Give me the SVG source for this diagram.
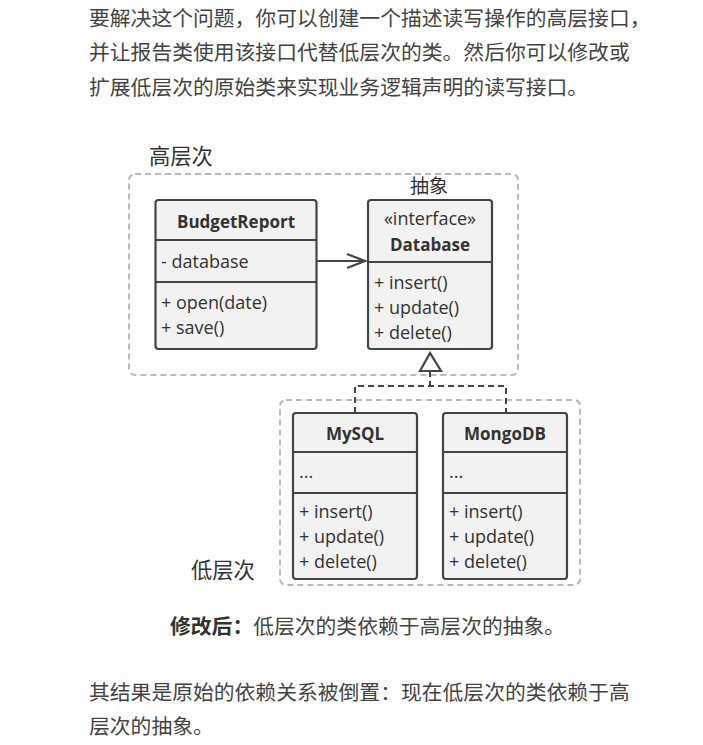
<svg xmlns="http://www.w3.org/2000/svg" width="703" height="745" viewBox="0 0 703 745">
<defs>
<style>
.para{font-family:"Noto Sans CJK SC","Noto Sans",sans-serif;font-size:20.8px;fill:#444}
.lbl{font-family:"Noto Sans CJK SC","Noto Sans",sans-serif;font-size:21.3px;fill:#333}
.box{fill:#f2f2f2;stroke:#444;stroke-width:2.2}
.div{stroke:#444;stroke-width:2.2}
.t{font-family:"Open Sans","Noto Sans",sans-serif;font-size:18px;fill:#333}
.b{font-weight:bold;font-size:17px}
.c{text-anchor:middle}
.grp{fill:none;stroke:#bbb;stroke-width:2;stroke-dasharray:6 4}
.dash{fill:none;stroke:#444;stroke-width:2;stroke-dasharray:6 4}
</style>
</defs>
<rect width="703" height="745" fill="#fff"/>
<g id="para-top">
<text class="para" x="89" y="26">要解决这个问题，你可以创建一个描述读写操作的高层接口，</text>
<text class="para" x="89" y="60">并让报告类使用该接口代替低层次的类。然后你可以修改或</text>
<text class="para" x="89" y="95">扩展低层次的原始类来实现业务逻辑声明的读写接口。</text>
</g>
<g id="high-level">
<rect class="grp" x="129" y="174" width="389" height="201" rx="6"/>
<text class="lbl" x="149" y="164">高层次</text>
<text class="lbl c" x="429" y="193" style="font-size:19px">抽象</text>
</g>
<g id="low-level">
<rect class="grp" x="280" y="400" width="300" height="185" rx="6"/>
<text class="lbl" x="191" y="578">低层次</text>
</g>
<g id="connectors">
<line x1="317" y1="261" x2="366" y2="261" stroke="#444" stroke-width="2"/>
<polyline points="347,254 365,261 347,268" fill="none" stroke="#444" stroke-width="2.2"/>
<polyline class="dash" points="355,413 355,386 506,386 506,413"/>
<line class="dash" x1="430" y1="371" x2="430" y2="386"/>
<polygon points="430,353 420,371 441,371" fill="#fff" stroke="#444" stroke-width="2.2"/>
</g>
<g id="BudgetReport">
<rect class="box" x="155.5" y="200" width="161" height="149" rx="3"/>
<line class="div" x1="155.5" y1="240" x2="316.5" y2="240"/>
<line class="div" x1="155.5" y1="282" x2="316.5" y2="282"/>
<text class="t b c" x="236" y="228">BudgetReport</text>
<text class="t" x="161" y="268">- database</text>
<text class="t" x="161" y="309">+ open(date)</text>
<text class="t" x="161" y="334">+ save()</text>
</g>
<g id="Database">
<rect class="box" x="368" y="200" width="124" height="149" rx="3"/>
<line class="div" x1="368" y1="262" x2="492" y2="262"/>
<text class="t c" x="430" y="225">«interface»</text>
<text class="t b c" x="430" y="251">Database</text>
<text class="t" x="374" y="289">+ insert()</text>
<text class="t" x="374" y="314">+ update()</text>
<text class="t" x="374" y="339">+ delete()</text>
</g>
<g id="MySQL">
<rect class="box" x="293" y="413" width="124" height="166" rx="3"/>
<line class="div" x1="293" y1="452" x2="417" y2="452"/>
<line class="div" x1="293" y1="493" x2="417" y2="493"/>
<text class="t b c" x="355" y="440">MySQL</text>
<text class="t" x="299" y="478">...</text>
<text class="t" x="299" y="518">+ insert()</text>
<text class="t" x="299" y="543">+ update()</text>
<text class="t" x="299" y="568">+ delete()</text>
</g>
<g id="MongoDB">
<rect class="box" x="443" y="413" width="124" height="166" rx="3"/>
<line class="div" x1="443" y1="452" x2="567" y2="452"/>
<line class="div" x1="443" y1="493" x2="567" y2="493"/>
<text class="t b c" x="505" y="440">MongoDB</text>
<text class="t" x="449" y="478">...</text>
<text class="t" x="449" y="518">+ insert()</text>
<text class="t" x="449" y="543">+ update()</text>
<text class="t" x="449" y="568">+ delete()</text>
</g>
<g id="caption">
<text class="para" x="170" y="634"><tspan font-weight="bold" fill="#333">修改后：</tspan>低层次的类依赖于高层次的抽象。</text>
</g>
<g id="para-bottom">
<text class="para" x="89" y="700">其结果是原始的依赖关系被倒置：现在低层次的类依赖于高</text>
<text class="para" x="89" y="734">层次的抽象。</text>
</g>
</svg>
